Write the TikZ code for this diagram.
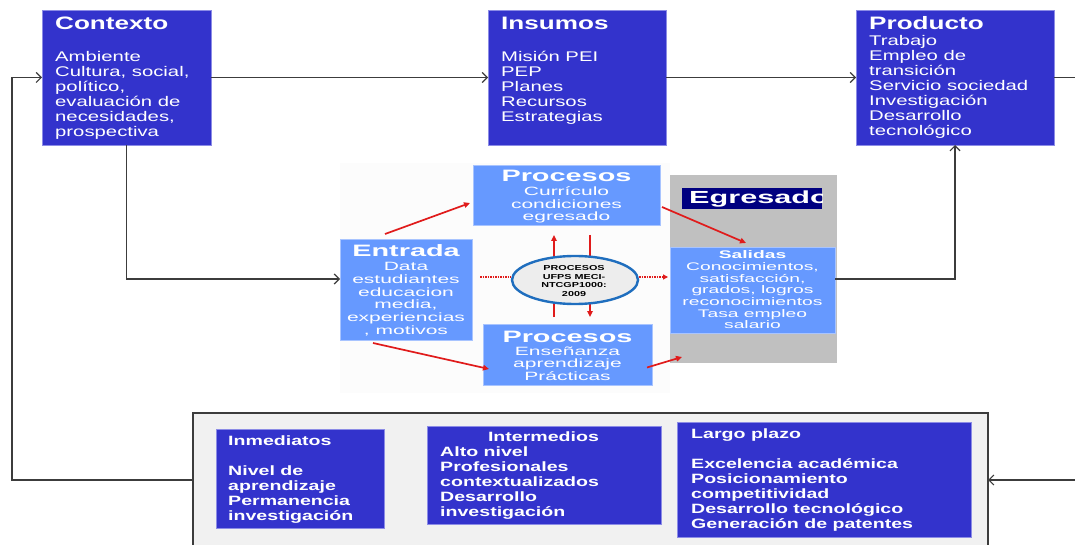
\documentclass[tikz,border=0pt]{standalone}
\usepackage{fontspec}
\setmainfont{Liberation Sans}
\newfontfamily\fA{Liberation Sans}[FakeStretch=1.45]
\newfontfamily\fB{Liberation Sans}[FakeStretch=1.75]
\newfontfamily\fC{Liberation Sans}[FakeStretch=1.5]
\usetikzlibrary{arrows.meta,calc,shapes.geometric}
\definecolor{dblue}{HTML}{3333CC}
\definecolor{dbord}{HTML}{8C8CE6}
\definecolor{lblue}{HTML}{6699FF}
\definecolor{lbord}{HTML}{A8C4FF}
\definecolor{navy}{HTML}{000080}
\definecolor{egray}{HTML}{C0C0C0}
\definecolor{conn}{HTML}{3C3C3C}
\definecolor{redarr}{HTML}{E01B1B}
\definecolor{ellb}{HTML}{1F6EBE}
\definecolor{ellf}{HTML}{EDEDED}
\definecolor{contf}{HTML}{F1F1F1}
\definecolor{panelf}{HTML}{FCFCFC}
\tikzset{
  boxbase/.style={inner sep=0pt, outer sep=0pt, anchor=north west},
  dbox/.style={boxbase, draw=dbord, fill=dblue, line width=0.6pt},
  lbox/.style={boxbase, draw=lbord, fill=lblue, line width=0.6pt},
  ttlA/.style={inner sep=0pt, text=white, font=\fA\bfseries\fontsize{18pt}{20pt}\selectfont},
  bodyA/.style={inner sep=0pt, text=white, align=left, font=\fA\fontsize{14pt}{15pt}\selectfont},
  ttlB/.style={inner sep=0pt, text=white, font=\fB\bfseries\fontsize{16.5pt}{18pt}\selectfont},
  bodyB/.style={inner sep=0pt, text=white, align=center, font=\fB\fontsize{12pt}{12.7pt}\selectfont},
  bodyS/.style={inner sep=0pt, text=white, align=center, font=\fB\fontsize{11pt}{11.7pt}\selectfont},
  bodyD/.style={inner sep=0pt, text=white, align=left, font=\fA\bfseries\fontsize{13.5pt}{15pt}\selectfont},
  conn/.style={draw=conn, line width=1.2pt},
  connarr/.style={conn, -{Straight Barb[length=5pt,width=10pt]}},
  redline/.style={draw=redarr, line width=1.7pt, -{Triangle[length=6pt,width=5.5pt]}},
  reddot/.style={draw=redarr, line width=1.5pt, densely dotted},
}
\begin{document}
\begin{tikzpicture}[x=1pt,y=-1pt]
\useasboundingbox (0,0) rectangle (1075,545);
\fill[white] (0,0) rectangle (1075,545);
\clip (0,0) rectangle (1075,545);

% middle faint panel
\node[boxbase, fill=panelf, minimum width=330pt, minimum height=230pt] (panel) at (340,163) {};

% top boxes
\node[dbox, minimum width=169pt, minimum height=135pt] (ctx) at (42,10) {};
\node[dbox, minimum width=178pt, minimum height=135pt] (ins) at (488,10) {};
\node[dbox, minimum width=198pt, minimum height=135pt] (prod) at (856,10) {};

\node[ttlA, anchor=base west] (ctxh) at (55,30) {Contexto};
\node[bodyA, anchor=north west] (ctxb) at (55,51.3) {Ambiente\\Cultura, social,\\político,\\evaluación de\\necesidades,\\prospectiva};
\node[ttlA, anchor=base west] (insh) at (501,30) {Insumos};
\node[bodyA, anchor=north west] (insb) at (501,51.3) {Misión PEI\\PEP\\Planes\\Recursos\\Estrategias};
\node[ttlA, anchor=base west] (prodh) at (869,30) {Producto};
\node[bodyA, anchor=north west] (prodb) at (869,35.3) {Trabajo\\Empleo de\\transición\\Servicio sociedad\\Investigación\\Desarrollo\\tecnológico};

% egresado panel
\node[boxbase, fill=egray, minimum width=167pt, minimum height=188pt] (egr) at (670,175) {};
\node[boxbase, fill=navy, minimum width=140pt, minimum height=21pt] (egrt) at (682,188) {};
\begin{scope}
\clip (egrt.north west) rectangle (egrt.south east);
\node[inner sep=0pt, text=white, font=\fB\bfseries\fontsize{17.5pt}{19pt}\selectfont, anchor=base west] (egrh) at (689,204) {Egresado};
\end{scope}
\node[lbox, minimum width=165pt, minimum height=86pt] (sal) at (670,247) {};
\node[inner sep=0pt, text=white, font=\fB\bfseries\fontsize{11pt}{12pt}\selectfont, anchor=base] (salh) at (752.5,258.5) {Salidas};
\node[bodyS, anchor=north] (salb) at (752.5,262.3) {Conocimientos,\\satisfacción,\\grados, logros\\reconocimientos\\Tasa empleo\\salario};

% process boxes
\node[lbox, minimum width=187pt, minimum height=60pt] (procA) at (473,165) {};
\node[ttlB, anchor=base] (procAh) at (566.5,181.5) {Procesos};
\node[bodyB, anchor=north] (procAb) at (566.5,186.3) {Currículo\\condiciones\\egresado};

\node[lbox, minimum width=132pt, minimum height=101pt] (entr) at (340,239) {};
\node[ttlB, anchor=base] (entrh) at (406,256) {Entrada};
\node[bodyB, anchor=north] (entrb) at (406,262.2) {Data\\estudiantes\\educacion\\media,\\experiencias\\, motivos};

\node[lbox, minimum width=169pt, minimum height=61pt] (procB) at (483,324) {};
\node[ttlB, anchor=base] (procBh) at (567.5,342) {Procesos};
\node[bodyB, anchor=north] (procBb) at (567.5,346.3) {Enseñanza\\aprendizaje\\Prácticas};

% red vertical arrows (behind ellipse)
\draw[redline] ([xshift=-13.5pt,yshift=7pt]procB.north) -- ([xshift=-12.5pt,yshift=-10pt]procA.south);
\draw[redline] ([xshift=23.5pt,yshift=-10pt]procA.south) -- ([xshift=22.5pt,yshift=7pt]procB.north);

% ellipse
\node[ellipse, draw=ellb, fill=ellf, line width=2.4pt, minimum width=126pt, minimum height=48pt, inner sep=0pt] (ell) at (575,280) {};
\node[inner sep=0pt, align=center, text=black, font=\fC\bfseries\fontsize{7.2pt}{8.6pt}\selectfont] (ellt) at (574,281) {PROCESOS\\UFPS MECI-\\NTCGP1000:\\2009};

% dotted
\draw[reddot] ([xshift=8pt,yshift=12.5pt]entr.east) -- ([yshift=3pt]ell.west);
\draw[reddot, -{Triangle[length=5pt,width=5pt]}] ([yshift=3pt]ell.east) -- ([xshift=-2pt,yshift=13pt]sal.west);

% red arrows
\draw[redline] ([xshift=-21pt,yshift=5pt]entr.north) -- ([xshift=-3pt,yshift=-8pt]procA.west);
\draw[redline] ([xshift=2pt,yshift=-12pt]procA.east) -- ([xshift=-6.5pt,yshift=4pt]sal.north);
\draw[redline] ([xshift=-33pt,yshift=-3pt]entr.south) -- ([xshift=6pt,yshift=-14.5pt]procB.west);
\draw[redline] ([xshift=-5pt,yshift=-13pt]procB.east) -- ([xshift=12pt,yshift=6pt]egr.south west);

% bottom container
\node[boxbase, draw=conn, fill=contf, line width=1.2pt, minimum width=795pt, minimum height=134pt] (cont) at (193,413) {};
\node[dbox, minimum width=168pt, minimum height=99pt] (inm) at (216,429) {};
\node[dbox, minimum width=234pt, minimum height=98pt] (intm) at (427,426) {};
\node[dbox, minimum width=294pt, minimum height=115pt] (largo) at (677,422) {};

\node[bodyD, anchor=north west] (inmt) at (228,435.2) {Inmediatos\\[15pt]Nivel de\\aprendizaje\\Permanencia\\investigación};
\node[bodyD, anchor=base] (intmh) at (543.5,441) {Intermedios};
\node[bodyD, anchor=north west] (intmt) at (440,446.2) {Alto nivel\\Profesionales\\contextualizados\\Desarrollo\\investigación};
\node[bodyD, anchor=north west] (largot) at (691,428.2) {Largo plazo\\[15pt]Excelencia académica\\Posicionamiento\\competitividad\\Desarrollo tecnológico\\Generación de patentes};

% connectors
\coordinate (rE) at (1075,77.5);
\coordinate (rB) at (1075,480);
\coordinate (lcorner) at (12,77.5);
\draw[connarr] (ctx.east) -- (ins.west);
\draw[connarr] (ins.east) -- (prod.west);
\draw[conn] (prod.east) -- (rE);
\draw[connarr] (cont.west) -| (lcorner) -- (ctx.west);
\draw[connarr] (ctx.south) |- ([yshift=10.5pt]entr.west);
\draw[connarr] ([yshift=11pt]sal.east) -| (prod.south);
\draw[connarr] (rB) -- (cont.east);
\end{tikzpicture}
\end{document}
